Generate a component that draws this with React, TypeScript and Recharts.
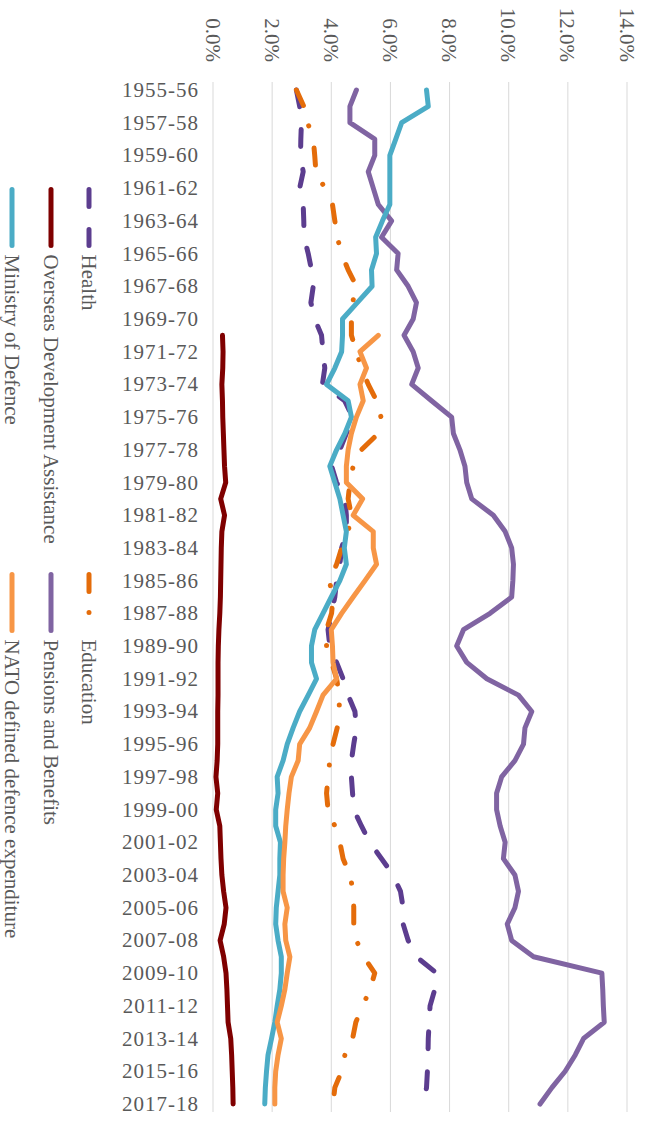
import { LineChart, Line, XAxis, YAxis, CartesianGrid, Legend } from "recharts"

const years = [
  "1955-56", "1956-57", "1957-58", "1958-59", "1959-60", "1960-61", "1961-62",
  "1962-63", "1963-64", "1964-65", "1965-66", "1966-67", "1967-68", "1968-69",
  "1969-70", "1970-71", "1971-72", "1972-73", "1973-74", "1974-75", "1975-76",
  "1976-77", "1977-78", "1978-79", "1979-80", "1980-81", "1981-82", "1982-83",
  "1983-84", "1984-85", "1985-86", "1986-87", "1987-88", "1988-89", "1989-90",
  "1990-91", "1991-92", "1992-93", "1993-94", "1994-95", "1995-96", "1996-97",
  "1997-98", "1998-99", "1999-00", "2000-01", "2001-02", "2002-03", "2003-04",
  "2004-05", "2005-06", "2006-07", "2007-08", "2008-09", "2009-10", "2010-11",
  "2011-12", "2012-13", "2013-14", "2014-15", "2015-16", "2016-17", "2017-18",
]

const health = [
  2.82, 2.93, 2.99, 2.97, 2.96, 3.05, 2.93, 3.05, 3.07, 3.08, 3.22, 3.33, 3.39,
  3.31, 3.44, 3.67, 3.72, 3.78, 3.7, 4.45, 4.72, 4.51, 4.29, 4.01, 4.18, 4.46,
  4.51, 4.51, 4.35, 4.29, 4.18, 4.12, 4.01, 3.89, 3.95, 4.18, 4.4, 4.57, 4.8,
  4.85, 4.76, 4.68, 4.68, 4.72, 4.76, 5.02, 5.3, 5.7, 6.09, 6.34, 6.43, 6.43,
  6.6, 6.88, 7.56, 7.5, 7.34, 7.31, 7.28, 7.27, 7.25, 7.22, 7.11,
]

const education = [
  2.82, 3.07, 3.2, 3.39, 3.44, 3.48, 3.78, 4.04, 4.12, 4.2, 4.35, 4.57, 4.85,
  4.72, 4.68, 4.68, 4.85, 5.02, 5.25, 5.53, 5.68, 5.59, 5.02, 4.74, 4.63, 4.57,
  4.68, 4.57, 4.35, 4.18, 3.93, 4.06, 4.01, 3.84, 3.84, 4.01, 4.18, 4.27, 4.27,
  4.2, 4.06, 3.95, 3.89, 3.84, 3.89, 4.12, 4.29, 4.4, 4.63, 4.74, 4.76, 4.76,
  4.85, 5.1, 5.47, 5.31, 5.06, 4.83, 4.72, 4.46, 4.35, 4.12, 4.06,
]

const oda = [
  null, null, null, null, null, null, null, null, null, null, null, null, null,
  null, null, 0.32, 0.34, 0.33, 0.3, 0.32, 0.33, 0.35, 0.37, 0.39, 0.43, 0.26,
  0.39, 0.3, 0.28, 0.27, 0.26, 0.25, 0.23, 0.2, 0.18, 0.17, 0.17, 0.17, 0.16,
  0.16, 0.16, 0.14, 0.1, 0.16, 0.11, 0.23, 0.25, 0.27, 0.3, 0.36, 0.44, 0.38,
  0.24, 0.36, 0.44, 0.47, 0.49, 0.51, 0.6, 0.63, 0.65, 0.67, 0.68,
]

const pensions = [
  4.85, 4.63, 4.63, 5.47, 5.47, 5.25, 5.42, 5.59, 6.04, 5.7, 6.26, 6.21, 6.6,
  6.88, 6.77, 6.46, 6.77, 6.94, 6.72, 7.39, 8.07, 8.13, 8.35, 8.52, 8.58, 8.75,
  9.48, 9.88, 10.1, 10.16, 10.14, 10.1, 9.37, 8.47, 8.24, 8.58, 9.26, 10.33,
  10.78, 10.55, 10.5, 10.21, 9.76, 9.59, 9.59, 9.71, 9.88, 9.82, 10.21, 10.33,
  10.21, 9.95, 10.1, 10.84, 13.15, 13.18, 13.2, 13.23, 12.53, 12.25, 11.91,
  11.46, 11.06,
]

const defence = [
  7.22, 7.28, 6.38, 6.18, 5.98, 5.98, 5.98, 5.98, 5.73, 5.5, 5.53, 5.36, 5.38,
  4.88, 4.38, 4.38, 4.35, 4.12, 3.84, 4.57, 4.68, 4.46, 4.18, 3.95, 4.12, 4.29,
  4.4, 4.51, 4.44, 4.51, 4.29, 4.0, 3.72, 3.44, 3.33, 3.33, 3.5, 3.22, 2.93,
  2.71, 2.51, 2.37, 2.17, 2.2, 2.12, 2.12, 2.28, 2.26, 2.26, 2.2, 2.14, 2.12,
  2.2, 2.31, 2.31, 2.26, 2.17, 2.09, 1.98, 1.86, 1.81, 1.77, 1.75,
]

const nato = [
  null, null, null, null, null, null, null, null, null, null, null, null, null,
  null, null, 5.59, 4.97, 5.19, 4.97, 5.08, 4.85, 4.68, 4.57, 4.51, 4.51, 5.06,
  4.74, 5.42, 5.42, 5.53, 5.14, 4.74, 4.35, 4.0, 4.04, 4.06, 4.18, 3.72, 3.5,
  3.27, 2.93, 2.88, 2.65, 2.57, 2.51, 2.46, 2.43, 2.39, 2.37, 2.37, 2.51, 2.43,
  2.46, 2.6, 2.51, 2.43, 2.31, 2.17, 2.31, 2.2, 2.12, 2.09, 2.09,
]

const percentTicks = [0, 2, 4, 6, 8, 10, 12, 14]

const series = [
  { key: "health", name: "Health", color: "#5C3D8F", dash: "17 23" },
  { key: "education", name: "Education", color: "#E46C0A", dash: "17 21 0.1 23" },
  { key: "oda", name: "Overseas Development Assistance", color: "#7F0000" },
  { key: "pensions", name: "Pensions and Benefits", color: "#8064A2" },
  { key: "defence", name: "Ministry of Defence", color: "#4BACC6" },
  { key: "nato", name: "NATO defined defence expenditure", color: "#F79646" },
]

const data = years.map((year, i) => ({
  year,
  health: health[i],
  education: education[i],
  oda: oda[i],
  pensions: pensions[i],
  defence: defence[i],
  nato: nato[i],
}))

const FONT = "'Liberation Serif', serif"
const TEXT = "#595959"

const YearTick = (props: any) => {
  const { x, y, payload } = props
  return (
    <text
      x={x}
      y={y}
      transform={`rotate(-90 ${x} ${y})`}
      textAnchor="end"
      dominantBaseline="central"
      fill={TEXT}
      fontSize={21}
      fontFamily={FONT}
      letterSpacing={1}
    >
      {payload.value}
    </text>
  )
}

// legend rows sit under the plot (left side once the chart is turned)
const legendRows = [27, 65, 104]
const legendCols = [189.5, 574.5]

const renderLegend = () => (
  <svg width={1123} height={116}>
    {series.map((s, i) => {
      const x0 = legendCols[i % 2]
      const y = legendRows[Math.floor(i / 2)]
      return (
        <g key={s.key}>
          <line
            x1={x0}
            x2={x0 + 56}
            y1={y}
            y2={y}
            stroke={s.color}
            strokeWidth={5}
            strokeLinecap="round"
            strokeDasharray={s.dash}
          />
          <text
            x={x0 + 65}
            y={y}
            dominantBaseline="central"
            fill={TEXT}
            fontSize={21}
            fontFamily={FONT}
          >
            {s.name}
          </text>
        </g>
      )
    })}
  </svg>
)

export default function App() {
  return (
    <div
      style={{
        position: "absolute",
        top: 0,
        left: 0,
        width: 646,
        height: 1123,
        overflow: "hidden",
        background: "#fff",
      }}
    >
      <div
        style={{
          position: "absolute",
          top: 0,
          left: 0,
          width: 1123,
          height: 646,
          transform: "translateX(646px) rotate(90deg)",
          transformOrigin: "0 0",
        }}
      >
        <LineChart
          width={1123}
          height={646}
          data={data}
          margin={{ top: 19, right: 11, bottom: 113, left: 0 }}
        >
          <CartesianGrid vertical={false} stroke="#d9d9d9" strokeWidth={1} />
          <XAxis
            dataKey="year"
            interval={1}
            axisLine={false}
            tickLine={false}
            tickSize={0}
            tickMargin={14}
            height={100}
            padding={{ left: 8, right: 8 }}
            tick={<YearTick />}
          />
          <YAxis
            type="number"
            domain={[0, 14]}
            ticks={percentTicks}
            tickFormatter={(v: number) => `${v.toFixed(1)}%`}
            axisLine={false}
            tickLine={false}
            tickSize={0}
            tickMargin={20}
            width={82}
            tick={{ fill: TEXT, fontSize: 21, fontFamily: FONT }}
          />
          {series.map((s) => (
            <Line
              key={s.key}
              type="linear"
              dataKey={s.key}
              name={s.name}
              stroke={s.color}
              strokeWidth={5}
              strokeDasharray={s.dash}
              strokeLinecap="round"
              strokeLinejoin="round"
              dot={false}
              activeDot={false}
              isAnimationActive={false}
            />
          ))}
          <Legend
            layout="horizontal"
            align="center"
            verticalAlign="middle"
            content={renderLegend}
            wrapperStyle={{ top: 530, left: 0, width: 1123, height: 116 }}
          />
        </LineChart>
      </div>
    </div>
  )
}
